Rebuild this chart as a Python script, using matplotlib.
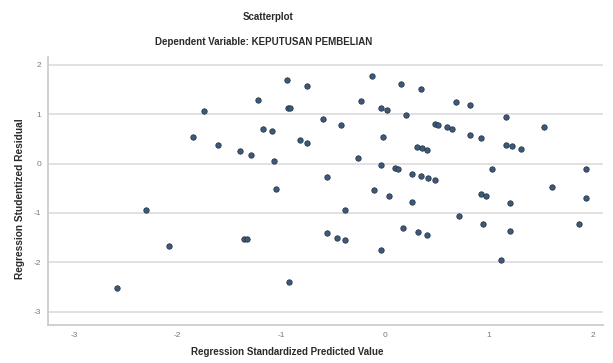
import matplotlib
matplotlib.use('Agg')
import matplotlib.pyplot as plt

plt.rcParams['font.family'] = ['Liberation Sans', 'DejaVu Sans']

# regression standardized predicted value
pred = [-0.125, 0.154, 0.347, -0.946, -0.753, -1.226, -0.232, 0.685, 0.820, -1.747,
        -0.936, -0.917, -0.039, 0.019, -0.598, -0.425, 0.203, 1.168, 0.483, 0.512,
        0.598, 0.647, 1.535, -1.178, -1.091, -1.853, -1.612, -0.820, -0.753, -0.019,
        0.820, 0.927, 1.168, 1.226, 1.313, 0.309, 0.357, 0.405, -1.400, -1.293,
        -1.071, -0.261, -0.039, 0.097, 0.125, 0.261, 0.347, 0.415, 0.483, 1.033,
        1.940, -0.560, -1.052, -0.106, 0.039, 0.261, 0.927, 0.975, 1.207, 1.612,
        1.940, -2.307, -0.386, 0.714, 0.946, 1.873, 0.174, 0.319, 0.405, -0.560,
        -0.463, -0.386, -1.361, -1.332, -2.085, -0.039, 1.207, 1.120, -0.927, -2.587]

# regression studentized residual
resid = [1.771, 1.609, 1.507, 1.690, 1.568, 1.284, 1.264, 1.243, 1.183, 1.061,
         1.122, 1.128, 1.122, 1.081, 0.898, 0.777, 0.980, 0.939, 0.797, 0.777,
         0.736, 0.696, 0.736, 0.696, 0.655, 0.533, 0.371, 0.473, 0.412, 0.533,
         0.574, 0.513, 0.371, 0.351, 0.290, 0.331, 0.310, 0.270, 0.249, 0.168,
         0.047, 0.108, -0.034, -0.095, -0.116, -0.217, -0.258, -0.298, -0.339, -0.116,
         -0.116, -0.278, -0.521, -0.542, -0.663, -0.785, -0.623, -0.663, -0.805, -0.481,
         -0.704, -0.947, -0.947, -1.069, -1.231, -1.231, -1.312, -1.393, -1.454, -1.414,
         -1.515, -1.556, -1.535, -1.535, -1.677, -1.759, -1.373, -1.961, -2.408, -2.530]

xticks = [-3, -2, -1, 0, 1, 2]
yticks = [-3, -2, -1, 0, 1, 2]

fig = plt.figure(figsize=(6.13, 3.63), dpi=100)
ax = fig.add_axes([48 / 613, 1 - 325 / 363, 555 / 613, 268 / 363])

ax.set_xlim(-3.25, 2.10)
ax.set_ylim(-3.27, 2.16)
ax.set_yticks(yticks)
ax.set_xticks(xticks)
ax.set_yticklabels([str(t) for t in yticks])
ax.set_xticklabels([str(t) for t in xticks])

for t in yticks:
    ax.axhline(t, color='#dcdcdc', lw=1.2, zorder=0)

ax.scatter(pred, resid, s=15, facecolor='#3a5a7e', edgecolor='#2b3644',
           linewidths=0.6, zorder=3)

for side in ['top', 'right']:
    ax.spines[side].set_visible(False)
for side in ['left', 'bottom']:
    ax.spines[side].set_color('#c8c8c8')
    ax.spines[side].set_linewidth(1.2)

ax.tick_params(length=0, labelsize=6, labelcolor='#7a7a7a', pad=5)

title_kw = dict(ha='center', va='center', fontsize=7, fontweight='bold', color='#2a2a2a')
fig.text(268 / 613, 1 - 17 / 363, 'Scatterplot', **title_kw)
fig.text(264 / 613, 1 - 42 / 363, 'Dependent Variable: KEPUTUSAN PEMBELIAN', **title_kw)
fig.text(287 / 613, 1 - 352 / 363, 'Regression Standardized Predicted Value', **title_kw)
fig.text(20 / 613, 1 - 199 / 363, 'Regression Studentized Residual', rotation=90,
         ha='center', va='center', fontsize=7.3, fontweight='bold', color='#2a2a2a')

fig.savefig('out.png', dpi=100)
